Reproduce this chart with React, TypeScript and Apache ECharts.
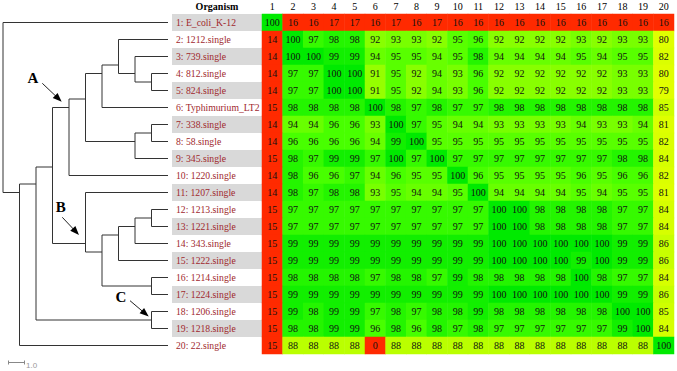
import React, { useEffect, useRef } from 'react';
import * as echarts from 'echarts';

const SERIF = '"Liberation Serif", "Times New Roman", serif';

const organisms = [
  '1: E_coli_K-12', '2: 1212.single', '3: 739.single', '4: 812.single', '5: 824.single',
  '6: Typhimurium_LT2', '7: 338.single', '8: 58.single', '9: 345.single', '10: 1220.single',
  '11: 1207.single', '12: 1213.single', '13: 1221.single', '14: 343.single', '15: 1222.single',
  '16: 1214.single', '17: 1224.single', '18: 1206.single', '19: 1218.single', '20: 22.single',
];

const columnLabels = ['1', '2', '3', '4', '5', '6', '7', '8', '9', '10',
  '11', '12', '13', '14', '15', '16', '17', '18', '19', '20'];

const row1 = [100, 16, 16, 17, 17, 16, 17, 16, 17, 16, 16, 16, 16, 16, 16, 16, 16, 16, 16, 16];
const row2 = [14, 100, 97, 98, 98, 92, 93, 93, 92, 95, 96, 92, 92, 92, 92, 93, 92, 93, 93, 80];
const row3 = [14, 100, 100, 99, 99, 94, 95, 95, 94, 95, 98, 94, 94, 94, 94, 95, 94, 95, 95, 82];
const row4 = [14, 97, 97, 100, 100, 91, 95, 92, 94, 93, 96, 92, 92, 92, 92, 92, 92, 93, 93, 80];
const row5 = [14, 97, 97, 100, 100, 91, 95, 92, 94, 93, 96, 92, 92, 92, 92, 92, 92, 93, 93, 79];
const row6 = [15, 98, 98, 98, 98, 100, 98, 97, 98, 97, 97, 98, 98, 98, 98, 98, 98, 98, 98, 85];
const row7 = [14, 94, 94, 96, 96, 93, 100, 97, 95, 94, 94, 93, 93, 93, 93, 94, 93, 93, 94, 81];
const row8 = [14, 96, 96, 96, 96, 94, 99, 100, 95, 95, 95, 95, 95, 95, 95, 95, 95, 95, 95, 82];
const row9 = [15, 98, 97, 99, 99, 97, 100, 97, 100, 97, 97, 97, 97, 97, 97, 97, 97, 98, 98, 84];
const row10 = [14, 98, 96, 96, 97, 94, 96, 95, 95, 100, 96, 95, 95, 95, 95, 96, 95, 96, 96, 82];
const row11 = [14, 98, 97, 98, 98, 93, 95, 94, 94, 95, 100, 94, 94, 94, 94, 95, 94, 95, 95, 81];
const row12 = [15, 97, 97, 97, 97, 97, 97, 97, 97, 97, 97, 100, 100, 98, 98, 98, 98, 97, 97, 84];
const row13 = [15, 97, 97, 97, 97, 97, 97, 97, 97, 97, 97, 100, 100, 98, 98, 98, 98, 97, 97, 84];
const row14 = [15, 99, 99, 99, 99, 99, 99, 99, 99, 99, 99, 100, 100, 100, 100, 100, 100, 99, 99, 86];
const row15 = [15, 99, 99, 99, 99, 99, 99, 99, 99, 99, 99, 100, 100, 100, 100, 99, 100, 99, 99, 86];
const row16 = [15, 98, 98, 98, 98, 97, 98, 98, 97, 99, 98, 98, 98, 98, 98, 100, 98, 97, 97, 84];
const row17 = [15, 99, 99, 99, 99, 99, 99, 99, 99, 99, 99, 100, 100, 100, 100, 100, 100, 99, 99, 86];
const row18 = [15, 99, 98, 99, 99, 97, 98, 97, 98, 98, 99, 98, 98, 98, 98, 98, 98, 100, 100, 85];
const row19 = [15, 98, 98, 99, 99, 96, 98, 96, 98, 97, 98, 97, 97, 97, 97, 97, 97, 99, 100, 84];
const row20 = [15, 88, 88, 88, 88, 0, 88, 88, 88, 88, 88, 88, 88, 88, 88, 88, 88, 88, 88, 100];

const identityRows = [row1, row2, row3, row4, row5, row6, row7, row8, row9, row10,
  row11, row12, row13, row14, row15, row16, row17, row18, row19, row20];

// Dendrogram topology (leaf numbers = row numbers)
const tree: any = [1, [[[[[[[2, [3, [4, 5]]], 6], [[7, 8], 9]], 10], [11, [[[[12, 13], 14], 15], [16, 17]]]], [18, 19]], 20]];

// Annotated clades: label, first leaf, last leaf
const annotations: [string, number, number][] = [['A', 2, 10], ['B', 11, 17], ['C', 18, 19]];

// pixel offsets of annotation pieces relative to the node (style)
const annotationStyle: Record<string, { tip: number[]; tail: number[]; text: number[] }> = {
  A: { tip: [-7.3, -5.8], tail: [-26.7, -24.2], text: [-36, -30] },
  B: { tip: [-6.5, -8.5], tail: [-23.2, -26.2], text: [-24.8, -37] },
  C: { tip: [-2.8, -3.5], tail: [-21.5, -19.3], text: [-30.5, -23.5] },
};

// colour stops of the identity scale, evenly spaced every 4 % from 0 to 100
const RED = '#ff2a00';
const colorStops = [
  RED, RED, RED, RED, RED, RED, RED, RED, RED, RED, // 0..36
  RED, RED, RED, RED, RED, RED, RED, RED, RED, // 40..72
  '#e4ff00', '#e0ff00', '#d6ff00', '#baff00', '#88ff00', '#48ff00', '#00ea00', // 76..100
];

type Laid = { h: number; y: number; lo: number; hi: number; leaves: number[]; children?: Laid[] };

function lay(n: any): Laid {
  if (typeof n === 'number') return { h: 0, y: n, lo: n, hi: n, leaves: [n] };
  const ch = (n as any[]).map(lay);
  const leaves = ch.reduce((a: number[], c) => a.concat(c.leaves), []);
  const y = leaves.reduce((s, v) => s + v, 0) / leaves.length;
  return {
    h: 1 + Math.max(...ch.map((c) => c.h)),
    y,
    lo: Math.min(...leaves),
    hi: Math.max(...leaves),
    leaves,
    children: ch,
  };
}

function collect(node: Laid, segs: number[][], nodes: Laid[]) {
  if (!node.children) return;
  nodes.push(node);
  const ys = node.children.map((c) => c.y);
  segs.push([node.h, Math.min(...ys), node.h, Math.max(...ys)]);
  node.children.forEach((c) => {
    segs.push([node.h, c.y, c.h, c.y]);
    collect(c, segs, nodes);
  });
}

export default function App() {
  const ref = useRef<HTMLDivElement>(null);
  useEffect(() => {
    if (!ref.current) return;
    const chart = echarts.init(ref.current, null, { renderer: 'svg' });

    const root = lay(tree);
    const segs: number[][] = [];
    const nodes: Laid[] = [];
    collect(root, segs, nodes);

    const annData: number[][] = [];
    annotations.forEach(([, lo, hi], i) => {
      const nd = nodes.find((n) => n.lo === lo && n.hi === hi);
      if (nd) annData.push([nd.h, nd.y, i]);
    });

    const heatData: number[][] = [];
    identityRows.forEach((row, r) => row.forEach((v, c) => heatData.push([c, r, v])));

    const labelRich = { width: 86, height: 17, lineHeight: 17, padding: [0, 0, 0, 4], fontSize: 9.7, fontFamily: SERIF, color: '#a0282d' };

    const option: any = {
      animation: false,
      grid: [
        { left: 262, top: 14, width: 412, height: 340 },
        { left: 3, top: 14, width: 165, height: 340 },
      ],
      xAxis: [
        {
          type: 'category', gridIndex: 0, data: columnLabels, position: 'top',
          axisLine: { show: false }, axisTick: { show: false }, splitLine: { show: false },
          axisLabel: { interval: 0, margin: 3, fontSize: 10, fontFamily: SERIF, color: '#000' },
        },
        { type: 'value', gridIndex: 1, min: 0, max: 10, inverse: true, show: false },
      ],
      yAxis: [
        {
          type: 'category', gridIndex: 0, data: organisms, inverse: true,
          axisLine: { show: false }, axisTick: { show: false }, splitLine: { show: false },
          axisLabel: {
            interval: 0, margin: 90, align: 'left',
            formatter: (v: string, i: number) => (i % 2 === 0 ? `{g|${v}}` : `{w|${v}}`),
            rich: {
              g: { ...labelRich, backgroundColor: '#d9d9d9' },
              w: { ...labelRich },
            },
          },
        },
        { type: 'value', gridIndex: 1, min: 0.5, max: 20.5, inverse: true, show: false },
      ],
      visualMap: {
        type: 'continuous', show: false, seriesIndex: 0, min: 0, max: 100, dimension: 2,
        inRange: { color: colorStops },
      },
      series: [
        {
          type: 'heatmap', xAxisIndex: 0, yAxisIndex: 0, data: heatData,
          itemStyle: { borderWidth: 0 },
          label: { show: true, fontSize: 10, fontFamily: SERIF, color: '#111' },
          emphasis: { disabled: true },
        },
        {
          type: 'custom', xAxisIndex: 1, yAxisIndex: 1, data: segs, silent: true,
          encode: { x: [0, 2], y: [1, 3] },
          renderItem: (params: any, api: any) => {
            const a = api.coord([api.value(0), api.value(1)]);
            const b = api.coord([api.value(2), api.value(3)]);
            return {
              type: 'line',
              shape: { x1: a[0], y1: a[1], x2: b[0], y2: b[1] },
              style: { stroke: '#333', lineWidth: 1 },
            };
          },
        },
        {
          type: 'custom', xAxisIndex: 1, yAxisIndex: 1, data: annData, silent: true,
          encode: { x: 0, y: 1 },
          renderItem: (params: any, api: any) => {
            const p = api.coord([api.value(0), api.value(1)]);
            const label = annotations[api.value(2)][0];
            const st = annotationStyle[label];
            const tip = [p[0] + st.tip[0], p[1] + st.tip[1]];
            const tail = [p[0] + st.tail[0], p[1] + st.tail[1]];
            const dx = tip[0] - tail[0];
            const dy = tip[1] - tail[1];
            const len = Math.sqrt(dx * dx + dy * dy);
            const ux = dx / len, uy = dy / len;
            const L = 9, W = 3.5;
            const bx = tip[0] - ux * L, by = tip[1] - uy * L;
            return {
              type: 'group',
              children: [
                {
                  type: 'line',
                  shape: { x1: tail[0], y1: tail[1], x2: bx + ux * 2, y2: by + uy * 2 },
                  style: { stroke: '#222', lineWidth: 1 },
                },
                {
                  type: 'polygon',
                  shape: { points: [tip, [bx - uy * W, by + ux * W], [bx + uy * W, by - ux * W]] },
                  style: { fill: '#000' },
                },
                {
                  type: 'text',
                  style: {
                    text: label, x: p[0] + st.text[0], y: p[1] + st.text[1],
                    font: `bold 15px ${SERIF}`, fill: '#000', align: 'center', verticalAlign: 'middle',
                  },
                },
              ],
            };
          },
        },
      ],
      graphic: [
        {
          type: 'text', x: 217, y: 6,
          style: { text: 'Organism', font: `bold 10px ${SERIF}`, fill: '#000', align: 'center', verticalAlign: 'middle' },
        },
        {
          type: 'group',
          children: [
            { type: 'line', shape: { x1: 8.5, y1: 362.5, x2: 24.5, y2: 362.5 }, style: { stroke: '#888', lineWidth: 1 } },
            { type: 'line', shape: { x1: 8.5, y1: 360.5, x2: 8.5, y2: 364.5 }, style: { stroke: '#888', lineWidth: 1 } },
            { type: 'line', shape: { x1: 24.5, y1: 360.5, x2: 24.5, y2: 364.5 }, style: { stroke: '#888', lineWidth: 1 } },
            {
              type: 'text', x: 26, y: 365,
              style: { text: '1.0', font: '8px "Liberation Sans", Arial, sans-serif', fill: '#999', align: 'left', verticalAlign: 'middle' },
            },
          ],
        },
      ],
    };

    chart.setOption(option);
    return () => chart.dispose();
  }, []);

  return (
    <div
      ref={ref}
      style={{ position: 'absolute', left: 0, top: 0, width: 677, height: 371, background: '#fff' }}
    />
  );
}
